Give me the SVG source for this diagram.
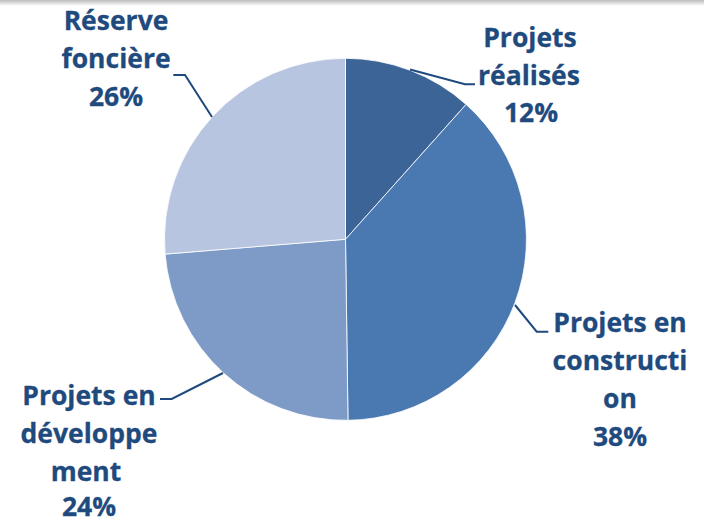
<svg xmlns="http://www.w3.org/2000/svg" width="704" height="523" viewBox="0 0 704 523">
  <defs>
    <linearGradient id="topShade" x1="0" y1="0" x2="0" y2="1">
      <stop offset="0" stop-color="#bdbdbd"/>
      <stop offset="1" stop-color="#ffffff"/>
    </linearGradient>
  </defs>
  <style>
    .slice { stroke: #ffffff; stroke-width: 0.8; }
    .lbl { font-family: "Open Sans", "Liberation Sans", sans-serif; font-weight: bold; font-size: 26.5px; fill: #1f4a7e; stroke: #1f4a7e; stroke-width: 0.3; text-anchor: middle; }
    .leader { fill: none; stroke: #1f4a7e; stroke-width: 2; }
  </style>
  <rect x="0" y="0" width="704" height="523" fill="#ffffff"/>
  <rect x="0" y="0" width="704" height="6" fill="url(#topShade)"/>

  <g id="slice-realises">
    <path class="slice" fill="#3c6496" d="M345.5,239.3 L345.5,58.3 A181,181 0 0 1 466.1,104.4 Z"/>
    <text class="lbl" x="530" y="47">Projets</text>
    <text class="lbl" x="529" y="85">réalisés</text>
    <text class="lbl" x="531" y="122">12%</text>
  </g>

  <g id="slice-construction">
    <path class="slice" fill="#4a79b2" d="M345.5,239.3 L466.1,104.4 A181,181 0 0 1 348.0,420.3 Z"/>
    <text class="lbl" x="620" y="332">Projets en</text>
    <text class="lbl" x="620" y="370">constructi</text>
    <text class="lbl" x="620" y="408">on</text>
    <text class="lbl" x="620" y="446">38%</text>
  </g>

  <g id="slice-developpement">
    <path class="slice" fill="#7e9bc8" d="M345.5,239.3 L348.0,420.3 A181,181 0 0 1 165.1,254.1 Z"/>
    <text class="lbl" x="89" y="405">Projets en</text>
    <text class="lbl" x="89" y="443">développe</text>
    <text class="lbl" x="86" y="481">ment</text>
    <text class="lbl" x="89" y="516">24%</text>
  </g>

  <g id="slice-reserve">
    <path class="slice" fill="#b7c5e0" d="M345.5,239.3 L165.1,254.1 A181,181 0 0 1 345.5,58.3 Z"/>
    <text class="lbl" x="116" y="30">Réserve</text>
    <text class="lbl" x="116" y="68">foncière</text>
    <text class="lbl" x="116" y="106">26%</text>
  </g>

  <g id="connectors">
    <polyline class="leader" points="410,69.5 465,84.3 475,84.3"/>
    <polyline class="leader" points="515,305 536.7,331.7 548.3,331.7"/>
    <polyline class="leader" points="223,373 171.7,399 160,399"/>
    <polyline class="leader" points="212,117 185,75 173.3,75"/>
  </g>
</svg>
